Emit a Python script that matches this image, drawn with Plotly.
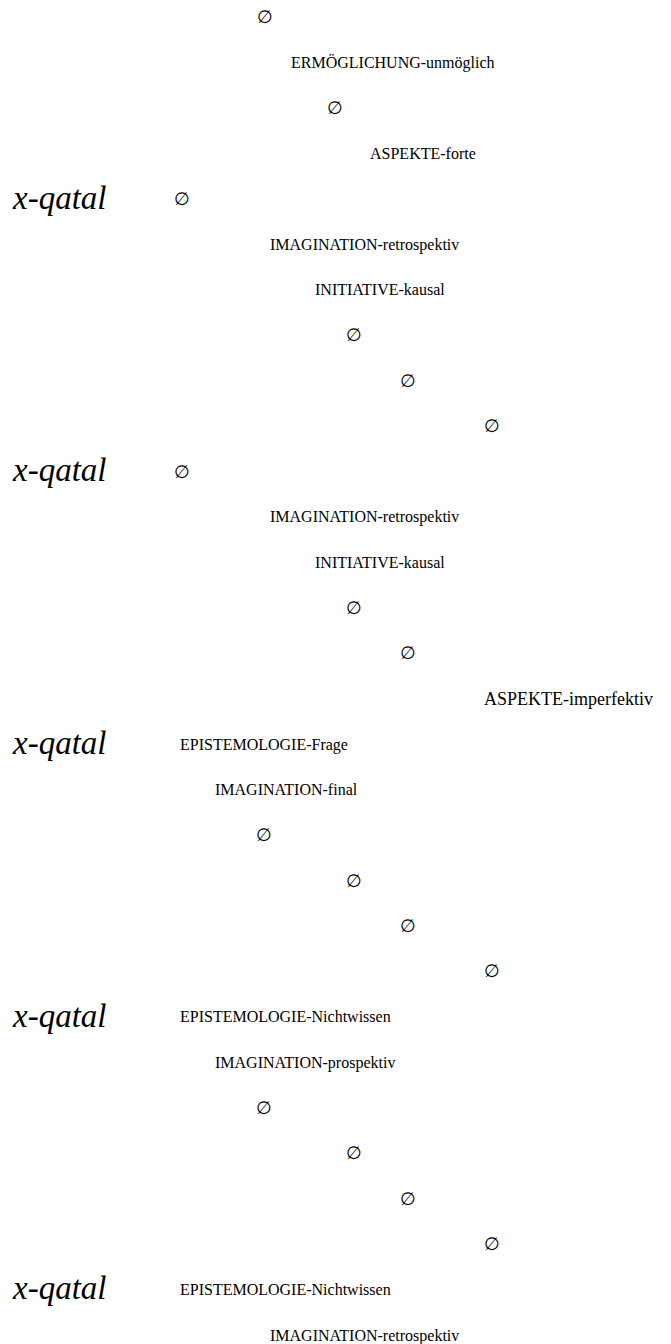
import plotly.graph_objects as go

# Row labels (top to bottom) and their horizontal indent (px from left edge)
labels = [
    "∅", "ERMÖGLICHUNG-unmöglich", "∅", "ASPEKTE-forte", "∅",
    "IMAGINATION-retrospektiv", "INITIATIVE-kausal", "∅", "∅", "∅",
    "∅", "IMAGINATION-retrospektiv", "INITIATIVE-kausal", "∅", "∅",
    "ASPEKTE-imperfektiv", "EPISTEMOLOGIE-Frage", "IMAGINATION-final", "∅", "∅",
    "∅", "∅", "EPISTEMOLOGIE-Nichtwissen", "IMAGINATION-prospektiv", "∅",
    "∅", "∅", "∅", "EPISTEMOLOGIE-Nichtwissen", "IMAGINATION-retrospektiv",
]
indent = [
    257, 291, 327, 370, 174,
    270, 315, 346, 400, 484,
    174, 270, 315, 346, 400,
    484, 180, 215, 256, 346,
    400, 484, 180, 215, 256,
    346, 400, 484, 180, 270,
]
rows = list(range(len(labels)))

# Clause-type markers and the rows where they stand
marker_rows = [4, 10, 16, 22, 28]
marker_labels = ["x-qatal"] * len(marker_rows)
marker_x = [13] * len(marker_rows)

ROW_H = 45.45
TOP = 10.5
W, H = 671, 1344
TEXT_PAD = 8  # plotly's gap between anchor and right-positioned text


def font_size(lbl):
    if lbl == "∅":
        return 18
    if lbl == "ASPEKTE-imperfektiv":
        return 18
    return 16


fig = go.Figure()
fig.add_trace(go.Scatter(
    x=indent, y=rows, mode="text", text=labels,
    textposition="middle right",
    textfont=dict(family=["Liberation Serif"] * len(labels),
                  size=[font_size(s) for s in labels], color="#000"),
    hoverinfo="skip", showlegend=False,
))
fig.add_trace(go.Scatter(
    x=marker_x, y=marker_rows, mode="text",
    text=["<i>%s</i>" % s for s in marker_labels],
    textposition="middle right",
    textfont=dict(family="Liberation Serif", size=33, color="#000"),
    hoverinfo="skip", showlegend=False,
))

r_top = -TOP / ROW_H
r_bot = r_top + H / ROW_H
fig.update_layout(
    width=W, height=H,
    margin=dict(l=0, r=0, t=0, b=0),
    paper_bgcolor="white", plot_bgcolor="white",
    xaxis=dict(range=[TEXT_PAD, W + TEXT_PAD], visible=False, fixedrange=True),
    yaxis=dict(range=[r_bot, r_top], visible=False, fixedrange=True),
)
fig.write_html("out.html")
